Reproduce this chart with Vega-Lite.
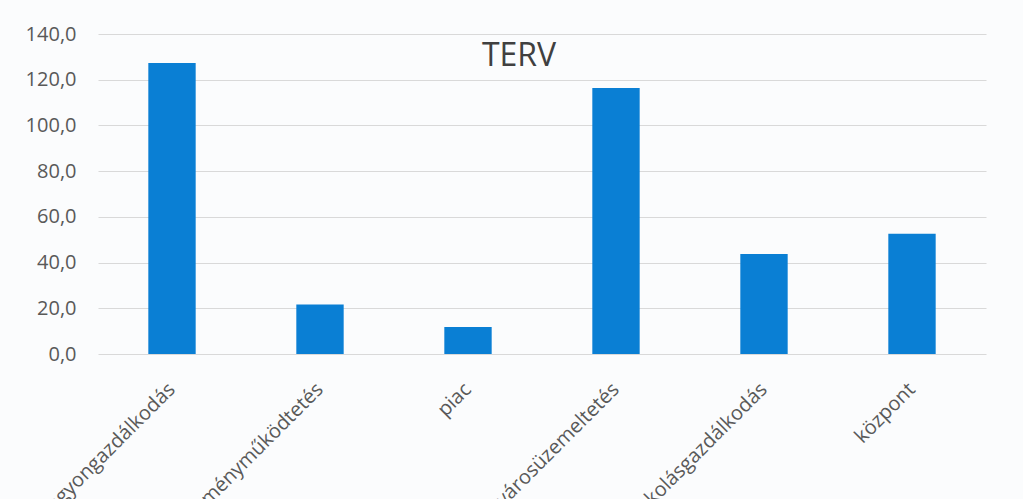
{
  "$schema": "https://vega.github.io/schema/vega-lite/v6.json",
  "width": 888,
  "height": 320,
  "autosize": {"type": "none"},
  "padding": {"left": 98, "top": 34, "right": 37, "bottom": 145},
  "background": "#fbfcfd",
  "title": {
    "text": "TERV",
    "font": "Open Sans",
    "fontSize": 32,
    "fontWeight": "normal",
    "color": "#404040",
    "anchor": "middle",
    "baseline": "alphabetic",
    "offset": -33,
    "dx": -23,
    "dy": 41
  },
  "data": {
    "values": [
      {"category": "vagyongazdálkodás", "value": 127.3},
      {"category": "intézményműködtetés", "value": 21.7},
      {"category": "piac", "value": 11.8},
      {"category": "városüzemeltetés", "value": 116.4},
      {"category": "iskolásgazdálkodás", "value": 43.7},
      {"category": "központ", "value": 52.6}
    ]
  },
  "mark": {"type": "bar", "color": "#0a7fd4"},
  "encoding": {
    "x": {
      "field": "category",
      "type": "nominal",
      "sort": null,
      "scale": {"paddingInner": 0.68, "paddingOuter": 0.34},
      "axis": {
        "title": null,
        "domain": false,
        "ticks": false,
        "labelAngle": -45,
        "labelAlign": "right",
        "labelBaseline": "middle",
        "labelPadding": 32,
        "labelFont": "Open Sans",
        "labelFontSize": 20,
        "labelColor": "#595959",
        "labelLimit": 0
      }
    },
    "y": {
      "field": "value",
      "type": "quantitative",
      "scale": {"domain": [0, 140], "nice": false},
      "axis": {
        "title": null,
        "domain": false,
        "ticks": false,
        "values": [0, 20, 40, 60, 80, 100, 120, 140],
        "labelExpr": "replace(format(datum.value, '.1f'), '.', ',')",
        "labelFont": "Open Sans",
        "labelFontSize": 20,
        "labelColor": "#595959",
        "labelPadding": 22,
        "gridColor": "#d9d9d9",
        "gridWidth": 1
      }
    }
  },
  "config": {"view": {"stroke": null}}
}
